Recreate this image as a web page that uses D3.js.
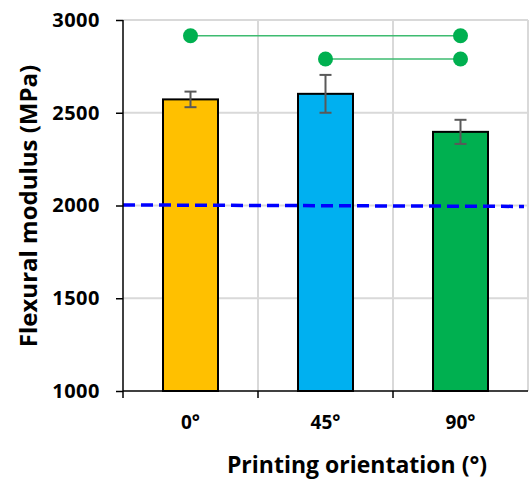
<!DOCTYPE html>
<html>
<head>
<meta charset="utf-8">
<script src="https://cdn.jsdelivr.net/npm/d3@7"></script>
<style>
  body { margin: 0; background: #fff; }
  svg text { font-family: "Open Sans", sans-serif; font-weight: bold; fill: #000; }
</style>
</head>
<body>
<div id="chart"></div>
<script>

// data
const orientations = ["0°", "45°", "90°"]
const modulus = [2572, 2602, 2397]
const modulusErr = [42, 102, 65]
const barColors = ["#FFC000", "#00B0F0", "#00B050"]
const yTicks = [1000, 1500, 2000, 2500, 3000]
const refLine = [2003, 1995]          // dashed blue line, left end / right end
const sigPairs = [[0, 2, 2915], [1, 2, 2790]]   // from, to, height

const config = { top: 20, right: 1, bottom: 90, left: 123 }
const width = 529, height = 481

const svg = d3.select('#chart').append('svg').attr("width", width).attr("height", height)

const x = d3.scaleBand().domain(orientations).range([config.left, width - config.right]).paddingInner(0).paddingOuter(0)
const y = d3.scaleLinear().domain([1000, 3000]).range([height - config.bottom, config.top])

const barW = 55

//grid
svg.append('g').selectAll('line.h')
    .data(yTicks.filter(d => d > 1000))
    .enter().append('line')
    .attr("x1", config.left).attr("x2", width - config.right)
    .attr("y1", d => y(d)).attr("y2", d => y(d))
    .attr("stroke", "#d9d9d9").attr("stroke-width", 2)

svg.append('g').selectAll('line.v')
    .data(orientations)
    .enter().append('line')
    .attr("x1", d => x(d) + x.bandwidth()).attr("x2", d => x(d) + x.bandwidth())
    .attr("y1", y(3000)).attr("y2", y(1000))
    .attr("stroke", "#d9d9d9").attr("stroke-width", 2)

//bars
svg.append('g').selectAll('rect')
    .data(orientations)
    .enter().append('rect')
    .attr("x", d => x(d) + x.bandwidth() / 2 - barW / 2)
    .attr("y", (d, i) => y(modulus[i]))
    .attr("width", barW)
    .attr("height", (d, i) => y(1000) - y(modulus[i]))
    .attr("fill", (d, i) => barColors[i])
    .attr("stroke", "#000").attr("stroke-width", 2)

//error bars
const eb = svg.append('g').attr("stroke", "#595959").attr("stroke-width", 2)
orientations.forEach(function (d, i) {
    const cx = x(d) + x.bandwidth() / 2
    const lo = y(modulus[i] - modulusErr[i]), hi = y(modulus[i] + modulusErr[i])
    eb.append('line').attr("x1", cx).attr("x2", cx).attr("y1", lo).attr("y2", hi)
    eb.append('line').attr("x1", cx - 6).attr("x2", cx + 6).attr("y1", lo).attr("y2", lo)
    eb.append('line').attr("x1", cx - 6).attr("x2", cx + 6).attr("y1", hi).attr("y2", hi)
})

//dashed reference
svg.append('line')
    .attr("x1", config.left).attr("x2", width - 5)
    .attr("y1", y(refLine[0])).attr("y2", y(refLine[1]))
    .attr("stroke", "#0000FF").attr("stroke-width", 3.5)
    .attr("stroke-dasharray", "12 6")

//significance markers
const cxOf = i => x(orientations[i]) + x.bandwidth() / 2
sigPairs.forEach(function (p) {
    svg.append('line')
        .attr("x1", cxOf(p[0])).attr("x2", cxOf(p[1]))
        .attr("y1", y(p[2])).attr("y2", y(p[2]))
        .attr("stroke", "#3dbb70").attr("stroke-width", 1.5)
    svg.selectAll(null).data([p[0], p[1]]).enter().append('circle')
        .attr("cx", d => cxOf(d)).attr("cy", y(p[2])).attr("r", 7.5)
        .attr("fill", "#00B050")
})

//axes
const axisLeft = d3.axisLeft(y).tickValues(yTicks).tickSize(7).tickPadding(16).tickFormat(d3.format("d"))
svg.append('g')
    .attr("transform", `translate(${config.left},0)`)
    .call(axisLeft)
    .call(g => g.selectAll("line").attr("stroke", "#000").attr("stroke-width", 1.5))
    .call(g => g.select(".domain").attr("stroke", "#000").attr("stroke-width", 1.5).attr("d", `M0,${y(3000)}V${y(1000)}`))
    .call(g => g.selectAll("text").style("font-size", "20px").style("letter-spacing", "0.5px"))

// x axis: ticks at band edges, labels at centres
const xa = svg.append('g').attr("transform", `translate(0,${y(1000)})`)
xa.append('line').attr("x1", config.left).attr("x2", width - config.right)
    .attr("stroke", "#000").attr("stroke-width", 1.5)
xa.selectAll('line.tk').data(orientations).enter().append('line')
    .attr("x1", d => x(d)).attr("x2", d => x(d)).attr("y1", 0).attr("y2", 7)
    .attr("stroke", "#000").attr("stroke-width", 1.5)
xa.selectAll('text').data(orientations).enter().append('text')
    .attr("x", d => x(d) + x.bandwidth() / 2).attr("y", 38)
    .attr("text-anchor", "middle").style("font-size", "19px")
    .text(d => d)

svg.append('text')
    .attr("x", 357).attr("y", 473)
    .attr("text-anchor", "middle").style("font-size", "23px")
    .text("Printing orientation (°)")

svg.append('text')
    .attr("transform", "translate(37,206) rotate(-90)")
    .attr("text-anchor", "middle").style("font-size", "24px")
    .text("Flexural modulus (MPa)")

</script>
</body>
</html>
